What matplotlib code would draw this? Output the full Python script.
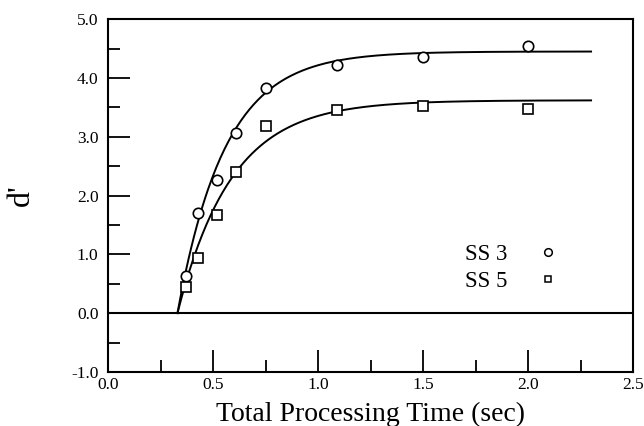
import numpy as np
import matplotlib
matplotlib.use("Agg")
import matplotlib.pyplot as plt
from matplotlib.lines import Line2D
from matplotlib.ticker import MultipleLocator, FormatStrFormatter

plt.rcParams['font.family'] = ['Liberation Serif', 'DejaVu Serif']

# data
time_sec = [0.37, 0.43, 0.52, 0.61, 0.75, 1.09, 1.50, 2.00]
ss3 = [0.63, 1.70, 2.26, 3.06, 3.83, 4.22, 4.35, 4.54]
ss5 = [0.45, 0.94, 1.67, 2.40, 3.18, 3.45, 3.52, 3.47]

# fitted curve parameters: asymptote, rate, intercept
fit_ss3 = (4.45, 4.4, 0.33)
fit_ss5 = (3.62, 3.9, 0.33)
fit_end = 2.3

fig = plt.figure(figsize=(6.44, 4.26), dpi=100)
ax = fig.add_axes([0.168, 0.127, 0.815, 0.828])

for lam, beta, delta in (fit_ss3, fit_ss5):
    t = np.linspace(delta, fit_end, 300)
    ax.plot(t, lam * (1 - np.exp(-beta * (t - delta))), color='black', lw=1.4)

ax.plot(time_sec, ss3, 'o', ms=7.5, mfc='white', mec='black', mew=1.2)
ax.plot(time_sec, ss5, 's', ms=6.5, mfc='white', mec='black', mew=1.2)

ax.axhline(0, color='black', lw=1.5)

ax.set_xlim(0, 2.5)
ax.set_ylim(-1, 5)
ax.xaxis.set_major_locator(MultipleLocator(0.5))
ax.xaxis.set_minor_locator(MultipleLocator(0.25))
ax.yaxis.set_major_locator(MultipleLocator(1.0))
ax.yaxis.set_minor_locator(MultipleLocator(0.5))
ax.xaxis.set_major_formatter(FormatStrFormatter('%.1f'))
ax.yaxis.set_major_formatter(FormatStrFormatter('%.1f'))
ax.tick_params(which='both', direction='in', top=False, right=False, width=1.3)
ax.tick_params(which='major', length=16, labelsize=12.5)
ax.tick_params(axis='x', which='major', pad=4)
ax.tick_params(axis='y', which='major', pad=7)
ax.tick_params(which='minor', length=8.5)
for s in ax.spines.values():
    s.set_linewidth(1.5)

ax.set_xlabel('Total Processing Time (sec)', fontsize=20, labelpad=6)
ax.set_ylabel("d'", fontsize=23, labelpad=25)

handles = [Line2D([], [], ls='none', marker='o', ms=5.5, mfc='white', mec='black', mew=1.1),
           Line2D([], [], ls='none', marker='s', ms=5, mfc='white', mec='black', mew=1.1)]
ax.legend(handles, ['SS 3', 'SS 5'], loc='center', bbox_to_anchor=(0.77, 0.295),
          frameon=False, markerfirst=False, fontsize=16.5, handletextpad=1.25,
          labelspacing=0.25, handlelength=1.0)

fig.savefig('out.png', dpi=100)
